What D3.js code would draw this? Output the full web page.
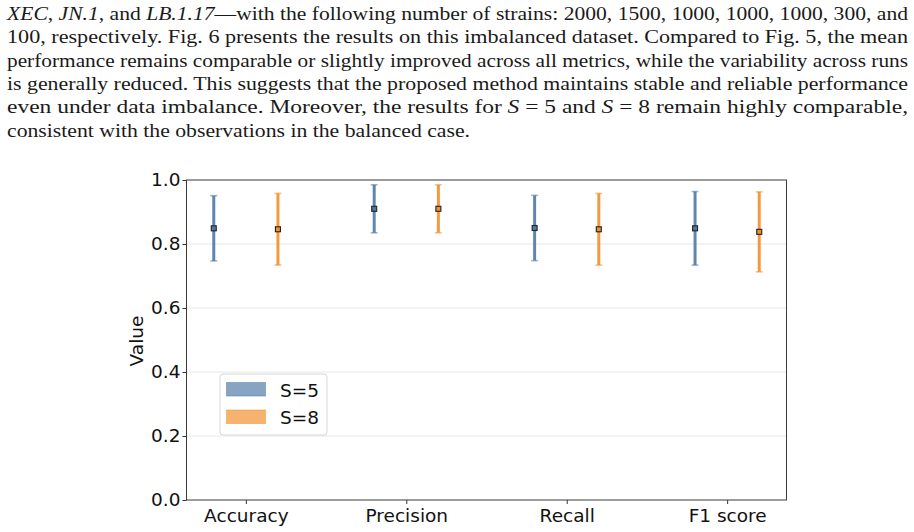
<!DOCTYPE html>
<html>
<head>
<meta charset="utf-8">
<script src="https://cdn.jsdelivr.net/npm/d3@7"></script>
<style>
  body { margin: 0; background: #fff; }
  svg { display: block; }
</style>
</head>
<body>
<script>
let width = 914;
let height = 532;

// paragraph above the figure, one entry per line, [text, italic] pieces
let paraLines = [
    [["XEC", 1], [", ", 0], ["JN.1", 1], [", and ", 0], ["LB.1.17", 1], ["\u2014with the following number of strains: 2000, 1500, 1000, 1000, 1000, 300, and", 0]],
    [["100, respectively. Fig. 6 presents the results on this imbalanced dataset. Compared to Fig. 5, the mean", 0]],
    [["performance remains comparable or slightly improved across all metrics, while the variability across runs", 0]],
    [["is generally reduced. This suggests that the proposed method maintains stable and reliable performance", 0]],
    [["even under data imbalance. Moreover, the results for ", 0], ["S", 1], [" = 5 and ", 0], ["S", 1], [" = 8 remain highly comparable,", 0]],
    [["consistent with the observations in the balanced case.", 0]]
];
let paraWidths = [901, 901, 901, 901, 901, 463];

// chart data
let metrics = ["Accuracy", "Precision", "Recall", "F1 score"];
let seriesNames = ["S=5", "S=8"];
let s5Mean = [0.849, 0.910, 0.850, 0.849];
let s5Err = [0.102, 0.075, 0.102, 0.115];
let s8Mean = [0.846, 0.910, 0.846, 0.838];
let s8Err = [0.112, 0.075, 0.112, 0.125];
let yTicks = [0, 0.2, 0.4, 0.6, 0.8, 1.0];

let colors = ["#4e79a7", "#f28e2b"];
let offsets = [-0.2, 0.2];
let fs = "18.5px";

let svg = d3.select("body").append("svg")
    .attr("width", width)
    .attr("height", height);

// paragraph
let para = svg.append("g")
    .style("font-family", "'Liberation Serif', serif")
    .style("font-size", "19.5px")
    .style("fill", "#1a1a1a");

paraLines.forEach((line, i) => {
    let t = para.append("text")
        .attr("x", 7)
        .attr("y", 20 + i * 23.3)
        .attr("textLength", paraWidths[i])
        .attr("lengthAdjust", "spacingAndGlyphs")
        .attr("xml:space", "preserve");
    line.forEach(p => {
        t.append("tspan")
            .style("font-style", p[1] ? "italic" : "normal")
            .text(p[0]);
    });
});

// chart area
let x = d3.scaleLinear().domain([-0.37, 3.37]).range([186.5, 786.5]);
let y = d3.scaleLinear().domain([0, 1]).range([500, 180]);

let chart = svg.append("g")
    .style("font-family", "'DejaVu Sans', sans-serif");

// grid
chart.append("g").selectAll("line")
    .data(yTicks.slice(1, -1))
    .enter().append("line")
    .attr("x1", x.range()[0]).attr("x2", x.range()[1])
    .attr("y1", d => y(d)).attr("y2", d => y(d))
    .style("stroke", "#e8e8e8")
    .style("stroke-width", 1);

// axes
let yAxis = chart.append("g")
    .attr("transform", `translate(${x.range()[0]},0)`)
    .call(d3.axisLeft(y).tickValues(yTicks).tickFormat(d3.format(".1f")).tickSize(4).tickPadding(2).tickSizeOuter(0));

let xAxis = chart.append("g")
    .attr("transform", `translate(0,${y.range()[0]})`)
    .call(d3.axisBottom(x).tickValues([0, 1, 2, 3]).tickFormat(i => metrics[i]).tickSize(4).tickPadding(5).tickSizeOuter(0));

[yAxis, xAxis].forEach(a => {
    a.selectAll("text").style("font-size", fs).style("fill", "#111").style("font-family", "'DejaVu Sans', sans-serif");
    a.selectAll(".tick line").style("stroke", "#333");
    a.select(".domain").remove();
});

// frame
chart.append("rect")
    .attr("x", x.range()[0]).attr("y", y.range()[1])
    .attr("width", x.range()[1] - x.range()[0])
    .attr("height", y.range()[0] - y.range()[1])
    .style("fill", "none")
    .style("stroke", "#3a3a3a")
    .style("stroke-width", 1);

// y label
chart.append("text")
    .attr("transform", `translate(143,341) rotate(-90)`)
    .attr("text-anchor", "middle")
    .style("font-size", fs)
    .style("fill", "#111")
    .text("Value");

// error bars
let series = [
    { name: seriesNames[0], mean: s5Mean, err: s5Err, color: colors[0], off: offsets[0] },
    { name: seriesNames[1], mean: s8Mean, err: s8Err, color: colors[1], off: offsets[1] }
];

series.forEach(s => {
    let g = chart.append("g");
    let pts = metrics.map((m, i) => ({ i: i, m: s.mean[i], e: s.err[i] }));

    g.selectAll("line.bar").data(pts).enter().append("line")
        .attr("class", "bar")
        .attr("x1", d => x(d.i + s.off)).attr("x2", d => x(d.i + s.off))
        .attr("y1", d => y(d.m - d.e)).attr("y2", d => y(d.m + d.e))
        .style("stroke", s.color)
        .style("stroke-opacity", 0.9)
        .style("stroke-width", 3);

    [-1, 1].forEach(sign => {
        g.selectAll("line.cap" + sign).data(pts).enter().append("line")
            .attr("x1", d => x(d.i + s.off) - 3.5).attr("x2", d => x(d.i + s.off) + 3.5)
            .attr("y1", d => y(d.m + sign * d.e)).attr("y2", d => y(d.m + sign * d.e))
            .style("stroke", s.color)
            .style("stroke-opacity", 0.55)
            .style("stroke-width", 1.6);
    });

    g.selectAll("rect").data(pts).enter().append("rect")
        .attr("x", d => x(d.i + s.off) - 2.5)
        .attr("y", d => y(d.m) - 2.5)
        .attr("width", 5).attr("height", 5)
        .style("fill", s.color)
        .style("stroke", "#222")
        .style("stroke-width", 1.1);
});

// legend
let legend = chart.append("g").attr("transform", "translate(220,374)");
legend.append("rect")
    .attr("width", 107).attr("height", 61)
    .attr("rx", 3)
    .style("fill", "#fff")
    .style("fill-opacity", 0.8)
    .style("stroke", "#d6d6d6")
    .style("stroke-width", 1);

series.forEach((s, i) => {
    let row = legend.append("g").attr("transform", `translate(0,${8.5 + i * 27.5})`);
    row.append("rect")
        .attr("x", 6.5).attr("y", 0)
        .attr("width", 39).attr("height", 13.5)
        .style("fill", s.color)
        .style("fill-opacity", 0.68)
        .style("stroke", s.color)
        .style("stroke-opacity", 0.5)
        .style("stroke-width", 1);
    row.append("text")
        .attr("x", 60).attr("y", 14)
        .style("font-size", fs)
        .style("fill", "#111")
        .text(s.name);
});
</script>
</body>
</html>
